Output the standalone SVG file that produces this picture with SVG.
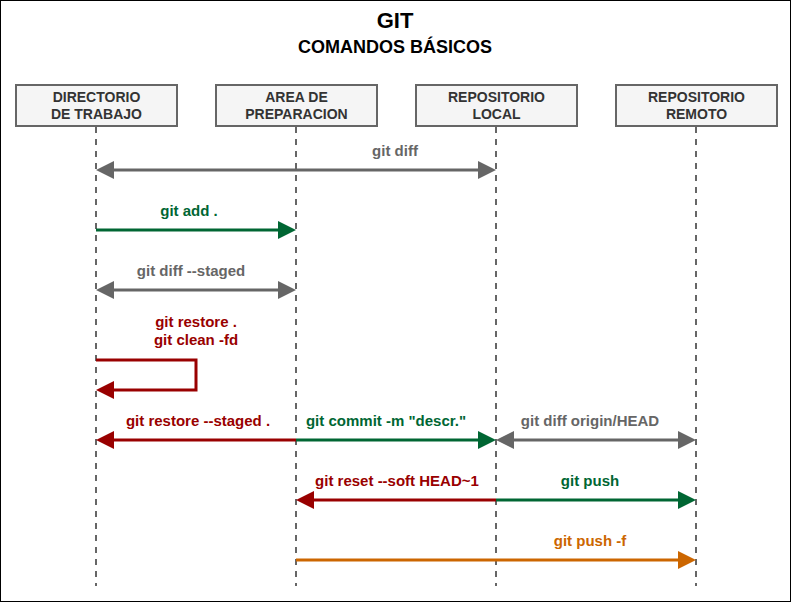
<svg xmlns="http://www.w3.org/2000/svg" width="791" height="602" viewBox="0 0 791 602">
<defs>
<style>
.box{fill:#f5f5f5;stroke:#666666;stroke-width:2}
.bt{font-family:"Liberation Sans",Arial,sans-serif;font-size:14px;font-weight:bold;fill:#333333;text-anchor:middle}
.life{stroke:#666666;stroke-width:2;stroke-dasharray:6 6;fill:none}
.lbl{font-family:"Liberation Sans",Arial,sans-serif;font-size:15px;font-weight:bold;text-anchor:middle}
.a{fill:none;stroke-width:3}
.gray{stroke:#666666}.green{stroke:#006633}.red{stroke:#990000}.orange{stroke:#CC6600}
.tg{fill:#666666}.tgr{fill:#006633}.tr{fill:#990000}.to{fill:#CC6600}
</style>
<marker id="mg" markerUnits="userSpaceOnUse" markerWidth="18" markerHeight="18" refX="0" refY="9" orient="auto-start-reverse" viewBox="0 0 18 18"><path d="M0,0 L18,9 L0,18 z" fill="#666666"/></marker>
<marker id="mgr" markerUnits="userSpaceOnUse" markerWidth="18" markerHeight="18" refX="0" refY="9" orient="auto-start-reverse" viewBox="0 0 18 18"><path d="M0,0 L18,9 L0,18 z" fill="#006633"/></marker>
<marker id="mr" markerUnits="userSpaceOnUse" markerWidth="18" markerHeight="18" refX="0" refY="9" orient="auto-start-reverse" viewBox="0 0 18 18"><path d="M0,0 L18,9 L0,18 z" fill="#990000"/></marker>
<marker id="mo" markerUnits="userSpaceOnUse" markerWidth="18" markerHeight="18" refX="0" refY="9" orient="auto-start-reverse" viewBox="0 0 18 18"><path d="M0,0 L18,9 L0,18 z" fill="#CC6600"/></marker>
</defs>
<rect x="0.5" y="0.5" width="790" height="601" fill="#ffffff" stroke="#000000" stroke-width="1"/>
<g id="title">
<text x="395" y="28" font-family="'Liberation Sans',Arial,sans-serif" font-size="22" font-weight="bold" text-anchor="middle" fill="#000000">GIT</text>
<text x="395" y="53" font-family="'Liberation Sans',Arial,sans-serif" font-size="18" font-weight="bold" text-anchor="middle" fill="#000000">COMANDOS BÁSICOS</text>
</g>
<g id="lifelines">
<line class="life" x1="96" y1="127" x2="96" y2="586"/>
<line class="life" x1="296" y1="127" x2="296" y2="586"/>
<line class="life" x1="496" y1="127" x2="496" y2="586"/>
<line class="life" x1="696" y1="127" x2="696" y2="586"/>
</g>
<g id="directorio">
<rect class="box" x="16" y="85" width="161" height="41"/>
<text class="bt" x="96.5" y="102">DIRECTORIO</text>
<text class="bt" x="96.5" y="119">DE TRABAJO</text>
</g>
<g id="area">
<rect class="box" x="216" y="85" width="161" height="41"/>
<text class="bt" x="296.5" y="102">AREA DE</text>
<text class="bt" x="296.5" y="119">PREPARACION</text>
</g>
<g id="local">
<rect class="box" x="416" y="85" width="161" height="41"/>
<text class="bt" x="496.5" y="102">REPOSITORIO</text>
<text class="bt" x="496.5" y="119">LOCAL</text>
</g>
<g id="remoto">
<rect class="box" x="616" y="85" width="161" height="41"/>
<text class="bt" x="696.5" y="102">REPOSITORIO</text>
<text class="bt" x="696.5" y="119">REMOTO</text>
</g>
<g id="connectors">
<path class="a gray" d="M114,170 H478" marker-start="url(#mg)" marker-end="url(#mg)"/>
<path class="a green" d="M96,230 H278" marker-end="url(#mgr)"/>
<path class="a gray" d="M114,290 H278" marker-start="url(#mg)" marker-end="url(#mg)"/>
<path class="a red" d="M96,360 H196 V390 H114" marker-end="url(#mr)"/>
<path class="a red" d="M296,440 H114" marker-end="url(#mr)"/>
<path class="a green" d="M296,440 H478" marker-end="url(#mgr)"/>
<path class="a gray" d="M514,440 H678" marker-start="url(#mg)" marker-end="url(#mg)"/>
<path class="a red" d="M496,500 H314" marker-end="url(#mr)"/>
<path class="a green" d="M496,500 H678" marker-end="url(#mgr)"/>
<path class="a orange" d="M296,560 H678" marker-end="url(#mo)"/>
</g>
<g id="labels">
<text class="lbl tg" x="395" y="156">git diff</text>
<text class="lbl tgr" x="189" y="216">git add .</text>
<text class="lbl tg" x="191" y="276">git diff --staged</text>
<text class="lbl tr" x="196" y="327">git restore .</text>
<text class="lbl tr" x="196" y="345">git clean -fd</text>
<text class="lbl tr" x="198" y="426">git restore --staged .</text>
<text class="lbl tgr" x="386" y="426">git commit -m "descr."</text>
<text class="lbl tg" x="590" y="426">git diff origin/HEAD</text>
<text class="lbl tr" x="397" y="486">git reset --soft HEAD~1</text>
<text class="lbl tgr" x="590" y="486">git push</text>
<text class="lbl to" x="590" y="546">git push -f</text>
</g>
</svg>
